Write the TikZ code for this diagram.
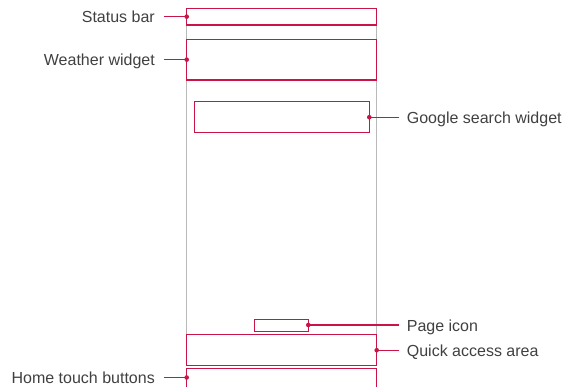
\documentclass[tikz,border=0pt]{standalone}
\usepackage{fontspec}
\setmainfont{Liberation Sans}
\definecolor{lgred}{RGB}{200,20,70}
\definecolor{guide}{RGB}{185,185,185}
\definecolor{txt}{RGB}{64,64,64}
\pgfdeclarelayer{bg}
\pgfsetlayers{bg,main}
\begin{document}
\begin{tikzpicture}[x=1pt,y=-1pt,
  area/.style={draw=lgred, line width=1.3pt, inner sep=0pt, outer sep=0pt},
  lbl/.style={text=txt, font=\fontsize{16}{18}\selectfont, inner sep=0pt, text height=12pt, text depth=0pt},
  conn/.style={draw=lgred, line width=1.2pt},
  dot/.style={circle, fill=lgred, inner sep=0pt, minimum size=4.6pt},
  guideline/.style={draw=guide, line width=1pt}]
\useasboundingbox (0,0) rectangle (565,386);
\clip (0,0) rectangle (565,386);
% areas
\node[area, minimum width=190pt, minimum height=16.7pt] (status) at (281.7,16.65) {};
\node[area, minimum width=190pt, minimum height=40.7pt] (weather) at (281.7,59.65) {};
\node[area, minimum width=175pt, minimum height=31pt] (google) at (281.8,117.2) {};
\node[area, line width=1pt, minimum width=54pt, minimum height=12pt] (page) at (281.3,325) {};
\node[area, minimum width=190pt, minimum height=31pt] (quick) at (281.7,350.2) {};
\node[area, minimum width=190pt, minimum height=24pt] (home) at (281.7,380.3) {};
% guide lines of the screen
\begin{pgfonlayer}{bg}
\draw[guideline] (status.south west) -- (quick.north west);
\draw[guideline] (status.south east) -- (quick.north east);
\end{pgfonlayer}
% labels
\node[lbl, anchor=east] (lstatus) at (155,16.65) {Status bar};
\node[lbl, anchor=east] (lweather) at (155,59.65) {Weather widget};
\node[lbl, anchor=west] (lgoogle) at (406.7,117.2) {Google search widget};
\node[lbl, anchor=west] (lpage) at (406.7,325) {Page icon};
\node[lbl, anchor=west] (lquick) at (406.7,350.2) {Quick access area};
\node[lbl, anchor=east] (lhome) at (155,377.5) {Home touch buttons};
% connectors
\draw[conn] ([xshift=9pt]lstatus.east) -- (status.west) node[dot] {};
\draw[conn] ([xshift=9pt]lweather.east) -- (weather.west) node[dot] {};
\draw[conn] ([xshift=-7.4pt]lgoogle.west) -- (google.east) node[dot] {};
\draw[conn] ([xshift=-7.4pt]lpage.west) -- (page.east) node[dot] {};
\draw[conn] ([xshift=-7.4pt]lquick.west) -- (quick.east) node[dot] {};
\draw[conn] ([xshift=9pt]lhome.east) -- (lhome.east -| home.west) node[dot] {};
\end{tikzpicture}
\end{document}
